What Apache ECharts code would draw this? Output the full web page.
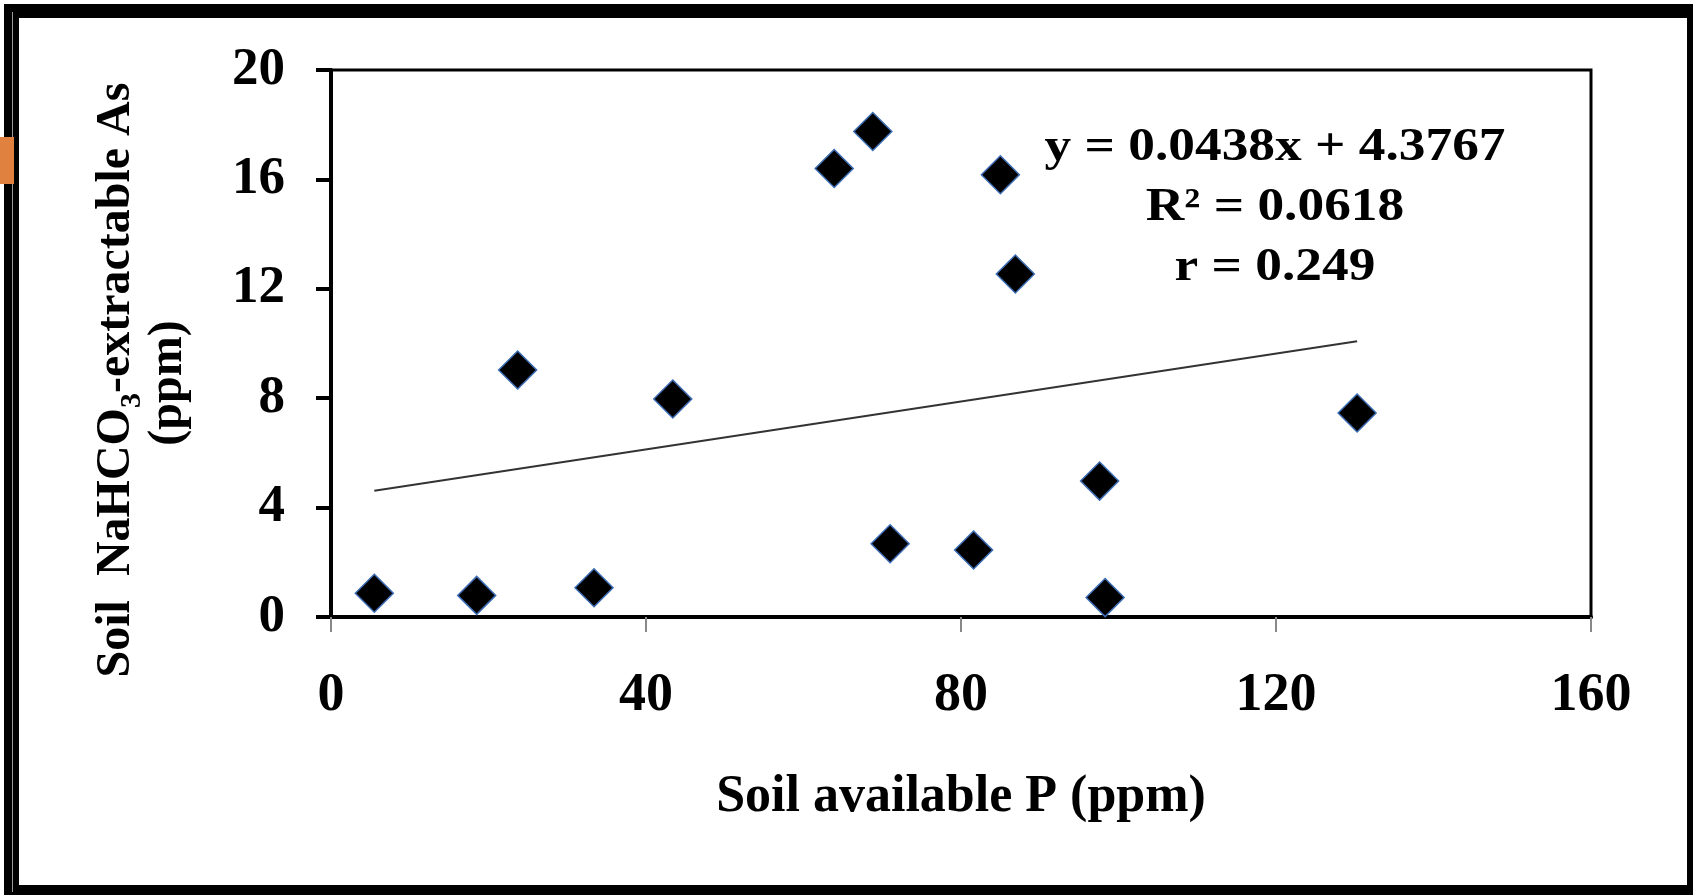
<!DOCTYPE html>
<html>
<head>
<meta charset="utf-8">
<script src="https://cdn.jsdelivr.net/npm/echarts@6.0.0/dist/echarts.min.js"></script>
<style>
  html, body { margin: 0; padding: 0; background: #fff; }
  #myChart { width: 1693px; height: 895px; }
</style>
</head>
<body>
<div id="myChart"></div>
<script>
// values
const soilP = [5.5, 18.5, 23.7, 33.4, 43.4, 63.9, 68.8, 71.0, 81.6, 85.0, 86.9, 97.6, 98.3, 130.3];
const soilAs = [0.87, 0.79, 9.03, 1.07, 7.97, 16.4, 17.75, 2.68, 2.45, 16.17, 12.54, 4.97, 0.71, 7.46];
const xTicks = [0, 40, 80, 120, 160];
const yTicks = [0, 4, 8, 12, 16, 20];
// fitted line as printed on the chart
const slope = 0.0438;
const intercept = 4.3767;
const statLines = ['y = 0.0438x + 4.3767', 'R\u00b2 = 0.0618', 'r = 0.249'];

const font = "'Liberation Serif', 'Times New Roman', serif";

let points = soilP.map((x, i) => [x, soilAs[i]]);
let xMin = Math.min(...soilP)
let xMax = Math.max(...soilP)
let trend = [[xMin, slope * xMin + intercept], [xMax, slope * xMax + intercept]];

let myChart = echarts.init(document.getElementById('myChart'))

let graphics = [
    // picture frame
    { type: 'rect', shape: { x: 4, y: 4, width: 1689, height: 14 }, style: { fill: '#000' } },
    { type: 'rect', shape: { x: 4, y: 4, width: 15, height: 891 }, style: { fill: '#000' } },
    { type: 'rect', shape: { x: 1687, y: 4, width: 6, height: 891 }, style: { fill: '#000' } },
    { type: 'rect', shape: { x: 4, y: 885, width: 1689, height: 10 }, style: { fill: '#000' } },
    { type: 'rect', shape: { x: 12, y: 12, width: 1, height: 880 }, style: { fill: '#999' } },
    { type: 'rect', shape: { x: 0, y: 137, width: 14, height: 47 }, style: { fill: '#E0813F' } },
    // y axis title, two lines
    {
        type: 'text', x: 117, y: 380, rotation: Math.PI / 2,
        style: {
            text: '{a|Soil  NaHCO}{s|3}{a|-extractable As}',
            align: 'center', verticalAlign: 'middle', fill: '#000',
            rich: {
                a: { fontSize: 48, lineHeight: 60, fontWeight: 'bold', fontFamily: font, fill: '#000' },
                s: { fontSize: 30, lineHeight: 30, verticalAlign: 'bottom', fontWeight: 'bold', fontFamily: font, fill: '#000' }
            }
        }
    },
    {
        type: 'text', x: 169, y: 383, rotation: Math.PI / 2,
        style: {
            text: '(ppm)', align: 'center', verticalAlign: 'middle',
            fontSize: 48, fontWeight: 'bold', fontFamily: font, fill: '#000'
        }
    }
];

statLines.forEach((t, i) => {
    graphics.push({
        type: 'text', x: 1275, y: 148 + i * 60, scaleX: 1.16,
        style: {
            text: t, align: 'center', verticalAlign: 'middle',
            fontSize: 46, fontWeight: 'bold', fontFamily: font, fill: '#000'
        }
    })
});

let option = {
    animation: false,
    backgroundColor: '#fff',
    grid: {
        left: 331, top: 70, right: 102, bottom: 278,
        show: true, borderColor: '#000', borderWidth: 3
    },
    xAxis: {
        type: 'value',
        min: xTicks[0],
        max: xTicks[xTicks.length - 1],
        interval: xTicks[1] - xTicks[0],
        splitLine: { show: false },
        axisLine: { lineStyle: { color: '#000', width: 4 } },
        axisTick: { show: true, length: 15, lineStyle: { color: '#888', width: 2 } },
        axisLabel: { fontFamily: font, fontWeight: 'bold', fontSize: 54, color: '#000', margin: 52 },
        name: 'Soil available P (ppm)',
        nameLocation: 'middle',
        nameGap: 155,
        nameTextStyle: { fontFamily: font, fontWeight: 'bold', fontSize: 52, color: '#000' }
    },
    yAxis: {
        type: 'value',
        min: yTicks[0],
        max: yTicks[yTicks.length - 1],
        interval: yTicks[1] - yTicks[0],
        splitLine: { show: false },
        axisLine: { lineStyle: { color: '#000', width: 4 } },
        axisTick: { show: true, length: 15, lineStyle: { color: '#000', width: 4 } },
        axisLabel: { fontFamily: font, fontWeight: 'bold', fontSize: 53, color: '#000', margin: 46 }
    },
    series: [
        {
            name: 'trend',
            type: 'line',
            data: trend,
            symbol: 'none',
            lineStyle: { color: '#333', width: 2 },
            z: 2
        },
        {
            name: 'samples',
            type: 'scatter',
            data: points,
            symbol: 'diamond',
            symbolSize: 38,
            itemStyle: { color: '#000', borderColor: '#3d6db5', borderWidth: 1.5, opacity: 1 },
            z: 3
        }
    ],
    graphic: graphics
};
myChart.setOption(option)
</script>
</body>
</html>
